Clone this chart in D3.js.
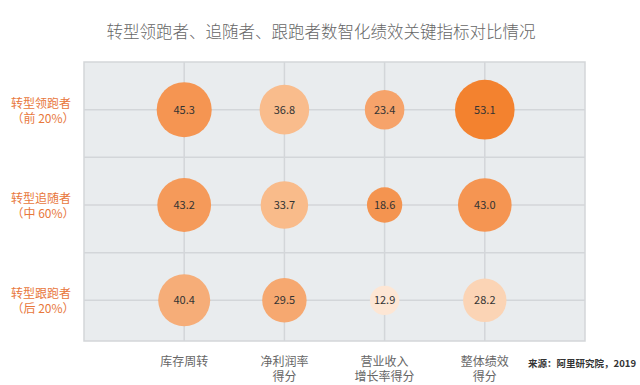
<!DOCTYPE html>
<html>
<head>
<meta charset="utf-8">
<script src="https://cdn.jsdelivr.net/npm/d3@7"></script>
<style>
  body { margin: 0; background: #fff; }
  svg { font-family: "Noto Sans CJK SC", "Noto Sans", sans-serif; }
</style>
</head>
<body>
<svg id="chart" width="640" height="385"></svg>
<script>
const groups = ["转型领跑者", "转型追随者", "转型跟跑者"];
const groupShares = ["（前 20%）", "（中 60%）", "（后 20%）"];
const metrics = [["库存周转"], ["净利润率", "得分"], ["营业收入", "增长率得分"], ["整体绩效", "得分"]];
// values[row][column]
const values = [
  [45.3, 36.8, 23.4, 53.1],
  [43.2, 33.7, 18.6, 43.0],
  [40.4, 29.5, 12.9, 28.2]
];
const fills = [
  ["#f59552", "#f9bc8c", "#f6a36a", "#f3822f"],
  ["#f59a5a", "#f9bb8a", "#f49450", "#f59552"],
  ["#f6ad78", "#f6a870", "#fde6d4", "#fbd4b5"]
];

const width = 640;
const height = 385;
const margin = { top: 62, right: 55, bottom: 41, left: 84 };

const svg = d3.select("#chart");

// Scales
const xScale = d3.scalePoint()
  .domain(metrics.map((d, i) => i))
  .range([margin.left, width - margin.right])
  .padding(1);

const yScale = d3.scaleBand()
  .domain(groups)
  .range([margin.top, 348]);

const rScale = d3.scaleSqrt()
  .domain([0, d3.max(values.flat())])
  .range([0, 29.8]);

const plotBottom = height - margin.bottom - 3;

// Plot background
svg.append("rect")
  .attr("x", margin.left)
  .attr("y", margin.top)
  .attr("width", width - margin.right - margin.left)
  .attr("height", plotBottom - margin.top)
  .attr("fill", "#e9ecee")
  .attr("stroke", "#d3d6d9")
  .attr("stroke-width", 1.5);

// Grid lines
const grid = svg.append("g")
  .attr("stroke", "#d3d6d9")
  .attr("stroke-width", 1.5);

metrics.forEach((m, i) => {
  grid.append("line")
    .attr("x1", xScale(i)).attr("x2", xScale(i))
    .attr("y1", margin.top).attr("y2", plotBottom);
});

groups.forEach((g, i) => {
  const yc = yScale(g) + yScale.bandwidth() / 2;
  grid.append("line")
    .attr("x1", margin.left).attr("x2", width - margin.right)
    .attr("y1", yc).attr("y2", yc);
  if (i > 0) {
    grid.append("line")
      .attr("x1", margin.left).attr("x2", width - margin.right)
      .attr("y1", yScale(g)).attr("y2", yScale(g));
  }
});

// Bubbles
const cells = [];
values.forEach((row, ri) => {
  row.forEach((v, ci) => cells.push({ row: groups[ri], col: ci, value: v, fill: fills[ri][ci] }));
});

const bubble = svg.append("g").selectAll("g")
  .data(cells)
  .join("g")
  .attr("transform", d => `translate(${xScale(d.col)},${yScale(d.row) + yScale.bandwidth() / 2})`);

bubble.append("circle")
  .attr("r", d => rScale(d.value))
  .attr("fill", d => d.fill);

bubble.append("text")
  .attr("text-anchor", "middle")
  .attr("dy", "0.35em")
  .attr("font-size", "11px")
  .attr("fill", "#333")
  .text(d => d.value.toFixed(1));

// Row labels
groups.forEach((g, i) => {
  const yc = yScale(g) + yScale.bandwidth() / 2;
  const t = svg.append("text")
    .attr("text-anchor", "middle")
    .attr("font-size", "12px")
    .attr("fill", "#e8773c");
  t.append("tspan").attr("x", 41).attr("y", yc - 2).text(g);
  t.append("tspan").attr("x", 43).attr("y", yc + 13).text(groupShares[i]);
});

// Column labels, one text per line
metrics.forEach((lines, i) => {
  lines.forEach((s, j) => {
    svg.append("text")
      .attr("x", xScale(i))
      .attr("y", 366 + j * 15)
      .attr("text-anchor", "middle")
      .attr("font-size", "12px")
      .attr("fill", "#666")
      .text(s);
  });
});

// Title
svg.append("text")
  .attr("x", 321)
  .attr("y", 38)
  .attr("text-anchor", "middle")
  .attr("font-size", "16.5px")
  .attr("font-weight", 300)
  .attr("fill", "#666")
  .text("转型领跑者、追随者、跟跑者数智化绩效关键指标对比情况");

// Source
svg.append("text")
  .attr("x", 636)
  .attr("y", 367)
  .attr("text-anchor", "end")
  .attr("font-size", "9.5px")
  .attr("font-weight", "bold")
  .attr("fill", "#333")
  .text("来源：阿里研究院，2019");
</script>
</body>
</html>
